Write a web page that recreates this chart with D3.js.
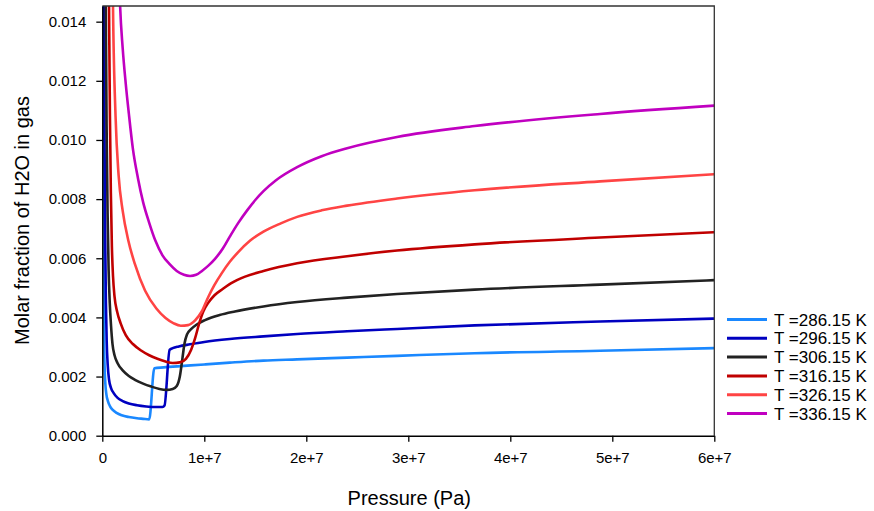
<!DOCTYPE html>
<html>
<head>
<meta charset="utf-8">
<script src="https://cdn.jsdelivr.net/npm/d3@7"></script>
<style>
  html, body { margin: 0; padding: 0; background: #fff; }
  svg { display: block; font-family: "Liberation Sans", Arial, sans-serif; }
</style>
</head>
<body>
<svg id="chart" width="874" height="511"></svg>
<script>
// Water content of the gas phase versus pressure, one curve per temperature.
const temperatures = [286.15, 296.15, 306.15, 316.15, 326.15, 336.15];
const seriesColors = ["#1a88ff", "#0000c0", "#222222", "#c00000", "#ff4444", "#c000c0"];

// Pressure (Pa) and molar fraction pairs for each isotherm
const p286 = [4e4, 7e4, 1e5, 1.3e5, 1.7e5, 2.2e5, 3e5, 4e5, 5.5e5, 7.5e5, 1e6, 1.4e6, 1.9e6, 2.6e6, 3.4e6, 4e6, 4.6e6, 5.1e6, 6e6, 8e6, 1e7, 1.25e7, 1.58e7, 1.91e7, 2.4e7, 2.89e7, 3.65e7, 4.88e7, 6e7];
const y286 = [0.024, 0.0145, 0.0085, 0.0052, 0.0033, 0.0024, 0.00175, 0.0014, 0.00117, 0.001, 0.00088, 0.00077, 0.00069, 0.00063, 0.00059, 0.00057, 0.00055, 0.00228, 0.00231, 0.00236, 0.00241, 0.00247, 0.00254, 0.00258, 0.00264, 0.0027, 0.00279, 0.00287, 0.00296];

const p296 = [1.3e5, 1.7e5, 2.2e5, 2.8e5, 3.5e5, 4.3e5, 5.3e5, 6.6e5, 8.5e5, 1.1e6, 1.5e6, 2e6, 2.6e6, 3.4e6, 4.3e6, 5.2e6, 5.9e6, 6.1e6, 6.6e6, 6.9e6, 7.5e6, 8.6e6, 1e7, 1.25e7, 1.58e7, 1.91e7, 2.4e7, 2.89e7, 3.65e7, 4.88e7, 6e7];
const y296 = [0.019, 0.0145, 0.01, 0.0068, 0.0046, 0.0032, 0.0024, 0.0019, 0.00162, 0.00145, 0.00128, 0.00117, 0.00109, 0.00103, 0.00099, 0.00097, 0.00097, 0.00102, 0.0029, 0.00296, 0.00302, 0.00309, 0.00317, 0.00327, 0.00336, 0.00344, 0.00353, 0.00361, 0.00373, 0.00386, 0.00396];

const p306 = [2.8e5, 3.4e5, 4.2e5, 5.2e5, 6.2e5, 7.3e5, 8.6e5, 1e6, 1.2e6, 1.5e6, 2e6, 2.6e6, 3.2e6, 4e6, 4.8e6, 5.6e6, 6.3e6, 6.9e6, 7.3e6, 7.6e6, 7.85e6, 8.05e6, 8.3e6, 8.7e6, 9.3e6, 1.007e7, 1.15e7, 1.3e7, 1.58e7, 1.91e7, 2.4e7, 2.89e7, 3.65e7, 4.88e7, 6e7];
const y306 = [0.018, 0.0145, 0.0105, 0.0075, 0.0056, 0.0045, 0.0037, 0.0031, 0.00272, 0.00245, 0.00221, 0.00202, 0.00189, 0.00176, 0.00166, 0.00158, 0.00155, 0.00158, 0.00168, 0.002, 0.0026, 0.0031, 0.00342, 0.0036, 0.00377, 0.00391, 0.00408, 0.0042, 0.00437, 0.00452, 0.00467, 0.00479, 0.00494, 0.00511, 0.00526];

const p316 = [5.5e5, 6.6e5, 7.5e5, 8.4e5, 9.4e5, 1.05e6, 1.2e6, 1.45e6, 1.8e6, 2.3e6, 3e6, 3.8e6, 4.6e6, 5.4e6, 6.2e6, 6.9e6, 7.6e6, 8.2e6, 8.7e6, 9.1e6, 9.5e6, 9.9e6, 1.04e7, 1.1e7, 1.18e7, 1.26e7, 1.4e7, 1.58e7, 1.91e7, 2.4e7, 2.89e7, 3.65e7, 4.88e7, 6e7];
const y316 = [0.019, 0.0145, 0.0108, 0.0082, 0.0064, 0.0054, 0.0047, 0.0042, 0.0038, 0.0034, 0.0031, 0.00288, 0.00272, 0.0026, 0.00251, 0.00246, 0.00248, 0.0026, 0.0029, 0.0033, 0.0038, 0.0042, 0.0045, 0.00475, 0.00496, 0.00515, 0.00538, 0.00557, 0.00583, 0.00607, 0.00626, 0.00647, 0.0067, 0.00688];

const p326 = [9e5, 1.05e6, 1.3e6, 1.6e6, 2e6, 2.55e6, 3.2e6, 4.2e6, 5.3e6, 6.2e6, 7e6, 7.7e6, 8.4e6, 9.1e6, 9.75e6, 1.04e7, 1.1e7, 1.17e7, 1.25e7, 1.33e7, 1.45e7, 1.58e7, 1.75e7, 1.91e7, 2.15e7, 2.4e7, 2.89e7, 3.65e7, 4.88e7, 6e7];
const y326 = [0.02, 0.0145, 0.0108, 0.0088, 0.0076, 0.0066, 0.0058, 0.0049, 0.0043, 0.00398, 0.0038, 0.00372, 0.00374, 0.0039, 0.0042, 0.0047, 0.0051, 0.00549, 0.00588, 0.0062, 0.0066, 0.0069, 0.00718, 0.0074, 0.00762, 0.00778, 0.00802, 0.0083, 0.0086, 0.00884];

const p336 = [1.5e6, 1.75e6, 2e6, 2.3e6, 2.6e6, 3e6, 3.5e6, 4e6, 4.6e6, 5.2e6, 5.9e6, 6.6e6, 7.3e6, 8e6, 8.6e6, 9.2e6, 9.8e6, 1.04e7, 1.105e7, 1.18e7, 1.25e7, 1.33e7, 1.42e7, 1.5e7, 1.58e7, 1.7e7, 1.91e7, 2.15e7, 2.4e7, 2.89e7, 3.65e7, 4.88e7, 6e7];
const y336 = [0.0175, 0.0145, 0.0131, 0.0119, 0.0109, 0.0097, 0.0087, 0.0079, 0.0072, 0.0066, 0.0061, 0.0058, 0.00557, 0.00544, 0.0054, 0.00544, 0.00558, 0.00575, 0.00598, 0.00632, 0.00673, 0.00718, 0.00762, 0.00797, 0.00827, 0.00863, 0.00908, 0.00945, 0.00972, 0.0101, 0.01047, 0.01088, 0.01116];

const pressures = [p286, p296, p306, p316, p326, p336];
const fractions = [y286, y296, y306, y316, y326, y336];

// Axis ticks
const xTicks = [0, 1e7, 2e7, 3e7, 4e7, 5e7, 6e7];
const xTickLabels = ["0", "1e+7", "2e+7", "3e+7", "4e+7", "5e+7", "6e+7"];
const yTicks = [0, 0.002, 0.004, 0.006, 0.008, 0.010, 0.012, 0.014];
const yTickLabels = ["0.000", "0.002", "0.004", "0.006", "0.008", "0.010", "0.012", "0.014"];

const svg = d3.select("#chart");
const plot = { left: 102.3, right: 714.3, top: 6, bottom: 435.7 };

const x = d3.scaleLinear().domain([0, 6e7]).range([plot.left, plot.right]);
const y = d3.scaleLinear().domain([0, 0.01453]).range([plot.bottom, plot.top]);

svg.append("defs").append("clipPath").attr("id", "plotClip")
  .append("rect")
  .attr("x", plot.left).attr("y", plot.top)
  .attr("width", plot.right - plot.left).attr("height", plot.bottom - plot.top);

// Curves
const line = d3.line()
  .x(d => x(d[0]))
  .y(d => y(d[1]))
  .curve(d3.curveMonotoneX);

const curves = svg.append("g").attr("clip-path", "url(#plotClip)");
temperatures.forEach((t, i) => {
  const pts = pressures[i].map((p, j) => [p, fractions[i][j]]);
  curves.append("path")
    .datum(pts)
    .attr("fill", "none")
    .attr("stroke", seriesColors[i])
    .attr("stroke-width", 2.6)
    .attr("stroke-linejoin", "round")
    .attr("d", line);
});

// Frame on top and right
svg.append("path")
  .attr("d", `M${plot.left},${plot.top}H${plot.right}V${plot.bottom}`)
  .attr("fill", "none")
  .attr("stroke", "#333")
  .attr("stroke-width", 1.3);

// Axes
const xAxis = svg.append("g")
  .attr("transform", `translate(0,${plot.bottom})`)
  .call(d3.axisBottom(x).tickValues(xTicks)
    .tickFormat((d, i) => xTickLabels[i]).tickSize(6).tickPadding(11).tickSizeOuter(0));
const yAxis = svg.append("g")
  .attr("transform", `translate(${plot.left},0)`)
  .call(d3.axisLeft(y).tickValues(yTicks)
    .tickFormat((d, i) => yTickLabels[i]).tickSize(6).tickPadding(10).tickSizeOuter(0));

[xAxis, yAxis].forEach(a => {
  a.select(".domain").attr("stroke", "#000").attr("stroke-width", 1.5);
  a.selectAll(".tick line").attr("stroke", "#000").attr("stroke-width", 1.3);
  a.selectAll(".tick text")
    .attr("fill", "#000")
    .style("font-family", "'Liberation Sans', Arial, sans-serif")
    .style("font-size", "15px");
});

// Axis titles
svg.append("text")
  .attr("x", (plot.left + plot.right) / 2 + 1)
  .attr("y", 505)
  .attr("text-anchor", "middle")
  .style("font-size", "20px")
  .text("Pressure (Pa)");

svg.append("text")
  .attr("transform", "translate(29,220.5) rotate(-90)")
  .attr("text-anchor", "middle")
  .style("font-size", "20px")
  .text("Molar fraction of H2O in gas");

// Legend
const legend = svg.append("g").attr("transform", "translate(727,319.5)");
temperatures.forEach((t, i) => {
  const row = legend.append("g").attr("transform", `translate(0,${i * 18.8})`);
  row.append("line")
    .attr("x1", 0).attr("x2", 40)
    .attr("y1", 0).attr("y2", 0)
    .attr("stroke", seriesColors[i])
    .attr("stroke-width", 3);
  row.append("text")
    .attr("x", 47)
    .attr("y", 0)
    .attr("dy", "0.36em")
    .style("font-size", "17px")
    .text(`T =${t.toFixed(2)} K`);
});
</script>
</body>
</html>
